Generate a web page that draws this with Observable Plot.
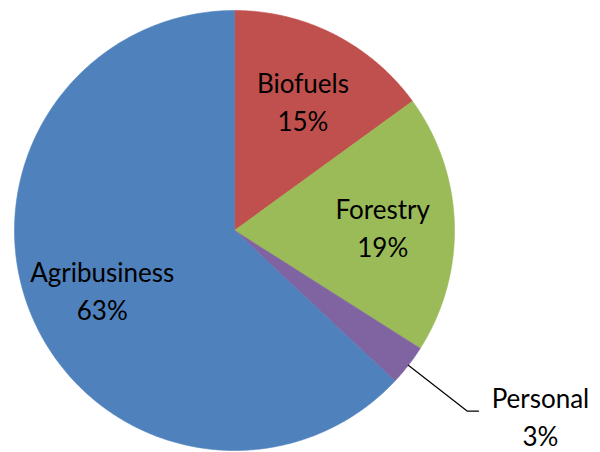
<!DOCTYPE html>
<html><head><meta charset="utf-8">
<script src="https://cdn.jsdelivr.net/npm/d3@7"></script>
<script src="https://cdn.jsdelivr.net/npm/@observablehq/plot@0.6"></script>
<style>body{margin:0;background:#fff} svg{display:block;overflow:visible}</style>
</head><body><div id="chart"></div>
<script>
const categories = ["Biofuels", "Forestry", "Personal", "Agribusiness"];
const shares = [15, 19, 3, 63];
const palette = ["#C0504D", "#9BBB59", "#8064A2", "#4F81BD"];
const insideLabels = ["Biofuels", "Forestry", "Agribusiness"];
const outsideLabels = ["Personal"];

const total = d3.sum(shares);
let acc = 0;
const slices = categories.map((c, i) => {
  const a0 = acc / total * 360; acc += shares[i];
  const a1 = acc / total * 360;
  return {cat: c, share: shares[i], a0, a1, mid: (a0 + a1) / 2};
});
const rad = d => d * Math.PI / 180;
const polyPts = slices.flatMap(s => {
  const pts = [{cat: s.cat, x: 0, y: 0}];
  const n = Math.max(2, Math.ceil(s.a1 - s.a0) * 2);
  for (let k = 0; k <= n; k++) {
    const a = rad(s.a0 + (s.a1 - s.a0) * k / n);
    pts.push({cat: s.cat, x: Math.sin(a), y: Math.cos(a)});
  }
  pts.push({cat: s.cat, x: 0, y: 0});
  return pts;
});
const labelR = 0.665;
const inside = slices.filter(s => insideLabels.includes(s.cat)).map(s => ({
  text: `${s.cat}\n${s.share}%`, x: labelR * Math.sin(rad(s.mid)), y: labelR * Math.cos(rad(s.mid))
}));
const leaderR0 = 1.0, leaderR1 = 1.34, leaderTail = 0.05;
const leaders = slices.filter(s => outsideLabels.includes(s.cat)).flatMap(s => {
  const sx = Math.sin(rad(s.mid)), cy = Math.cos(rad(s.mid));
  const ex = leaderR1 * sx, ey = leaderR1 * cy;
  return [{cat: s.cat, x: leaderR0 * sx, y: leaderR0 * cy}, {cat: s.cat, x: ex, y: ey}, {cat: s.cat, x: ex + leaderTail, y: ey}];
});
const outside = slices.filter(s => outsideLabels.includes(s.cat)).map(s => ({
  text: `${s.cat}\n${s.share}%`, x: leaderR1 * Math.sin(rad(s.mid)) + leaderTail, y: leaderR1 * Math.cos(rad(s.mid))
}));

const chart = Plot.plot({
  width: 600, height: 452,
  marginLeft: 14, marginRight: 146, marginTop: 10, marginBottom: 2,
  x: {domain: [-1, 1], axis: null},
  y: {domain: [-1, 1], axis: null},
  color: {domain: categories, range: palette},
  style: {fontFamily: "Lato, sans-serif", background: "#fff", overflow: "visible"},
  marks: [
    Plot.line(polyPts, {x: "x", y: "y", z: "cat", fill: "cat", stroke: "cat", strokeWidth: 0.6, curve: "linear"}),
    Plot.line(leaders, {x: "x", y: "y", z: "cat", stroke: "#000", strokeWidth: 1.2}),
    Plot.text(inside, {x: "x", y: "y", text: "text", fontSize: 26, lineHeight: 1.46, fill: "#000", textAnchor: "middle", lineAnchor: "middle", dx: 2}),
    Plot.text(outside, {x: "x", y: "y", text: "text", fontSize: 26, lineHeight: 1.46, fill: "#000", textAnchor: "middle", lineAnchor: "top", dx: 62, dy: -30})
  ]
});
document.getElementById("chart").appendChild(chart);
</script>
</body></html>
